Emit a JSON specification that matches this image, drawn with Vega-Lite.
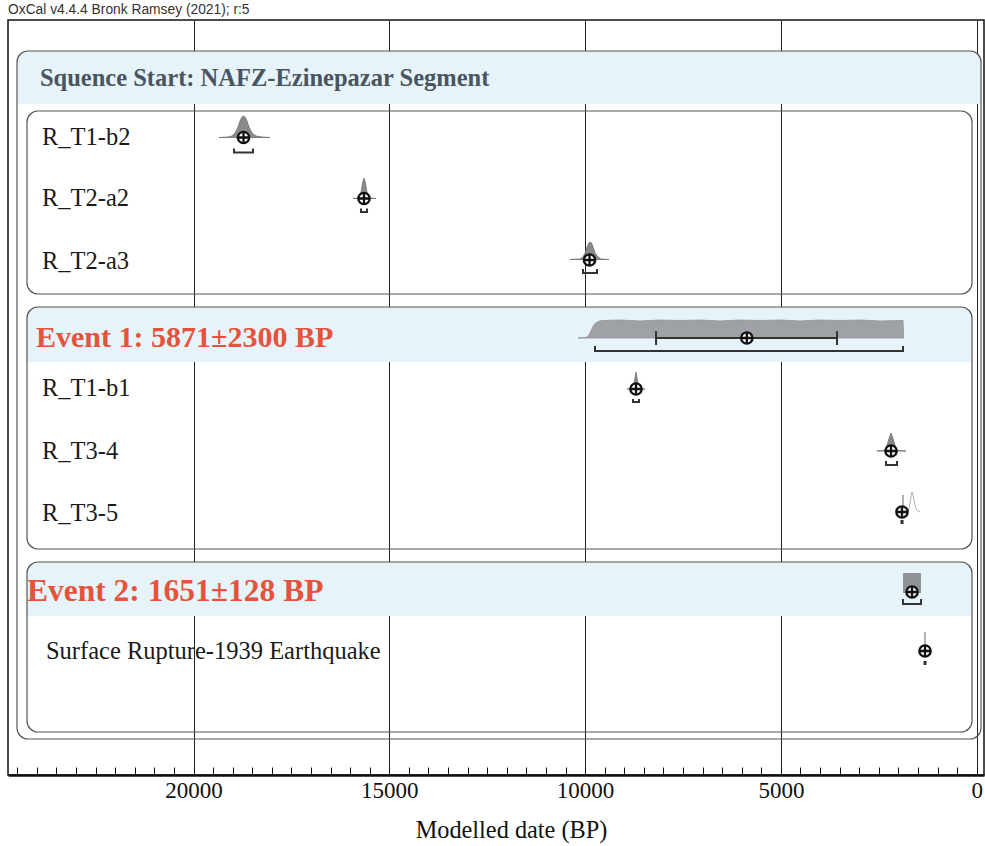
{
  "$schema": "https://vega.github.io/schema/vega-lite/v6.json",
  "width": 976,
  "height": 755,
  "autosize": {"type": "none"},
  "padding": {"left": 8, "top": 20, "right": 1, "bottom": 71},
  "background": "white",
  "title": {"text": "OxCal v4.4.4 Bronk Ramsey (2021); r:5", "anchor": "start", "font": "Liberation Sans", "fontSize": 13.8, "fontWeight": "normal", "color": "#333333", "offset": 3},
  "config": {"view": {"stroke": "#111111", "strokeWidth": 1.5}},
  "datasets": {
    "headers": [
      {"date": 24507, "date2": -110, "pos": 51, "pos2": 104},
      {"date": 24252, "date2": 120, "pos": 307, "pos2": 362},
      {"date": 24252, "date2": 120, "pos": 562, "pos2": 616}
    ],
    "frames": [
      {"group": "sequence", "date": 24507, "date2": -110, "pos": 51, "pos2": 739},
      {"group": "phase", "date": 24252, "date2": 120, "pos": 111, "pos2": 294},
      {"group": "event1", "date": 24252, "date2": 120, "pos": 307, "pos2": 549},
      {"group": "event2", "date": 24252, "date2": 120, "pos": 562, "pos2": 732}
    ],
    "curves": [
      {"id": "R_T1-b2", "date": 19349, "pos": 137.5, "pos2": 137.5},
      {"id": "R_T1-b2", "date": 19119, "pos": 137, "pos2": 137.5},
      {"id": "R_T1-b2", "date": 19017, "pos": 136, "pos2": 137.5},
      {"id": "R_T1-b2", "date": 18940, "pos": 133, "pos2": 137.5},
      {"id": "R_T1-b2", "date": 18863, "pos": 127, "pos2": 137.5},
      {"id": "R_T1-b2", "date": 18812, "pos": 121, "pos2": 137.5},
      {"id": "R_T1-b2", "date": 18761, "pos": 117, "pos2": 137.5},
      {"id": "R_T1-b2", "date": 18723, "pos": 116, "pos2": 137.5},
      {"id": "R_T1-b2", "date": 18685, "pos": 117, "pos2": 137.5},
      {"id": "R_T1-b2", "date": 18634, "pos": 121, "pos2": 137.5},
      {"id": "R_T1-b2", "date": 18583, "pos": 127, "pos2": 137.5},
      {"id": "R_T1-b2", "date": 18506, "pos": 133, "pos2": 137.5},
      {"id": "R_T1-b2", "date": 18404, "pos": 136, "pos2": 137.5},
      {"id": "R_T1-b2", "date": 18251, "pos": 137, "pos2": 137.5},
      {"id": "R_T1-b2", "date": 18046, "pos": 137.5, "pos2": 137.5},
      {"id": "R_T2-a2", "date": 15927, "pos": 198.5, "pos2": 198.5},
      {"id": "R_T2-a2", "date": 15799, "pos": 198, "pos2": 198.5},
      {"id": "R_T2-a2", "date": 15748, "pos": 196, "pos2": 198.5},
      {"id": "R_T2-a2", "date": 15710, "pos": 190, "pos2": 198.5},
      {"id": "R_T2-a2", "date": 15684, "pos": 183, "pos2": 198.5},
      {"id": "R_T2-a2", "date": 15646, "pos": 178, "pos2": 198.5},
      {"id": "R_T2-a2", "date": 15608, "pos": 183, "pos2": 198.5},
      {"id": "R_T2-a2", "date": 15582, "pos": 190, "pos2": 198.5},
      {"id": "R_T2-a2", "date": 15544, "pos": 196, "pos2": 198.5},
      {"id": "R_T2-a2", "date": 15493, "pos": 198, "pos2": 198.5},
      {"id": "R_T2-a2", "date": 15340, "pos": 198.5, "pos2": 198.5},
      {"id": "R_T2-a3", "date": 10386, "pos": 259.5, "pos2": 259.5},
      {"id": "R_T2-a3", "date": 10130, "pos": 259, "pos2": 259.5},
      {"id": "R_T2-a3", "date": 10054, "pos": 257, "pos2": 259.5},
      {"id": "R_T2-a3", "date": 10002, "pos": 253, "pos2": 259.5},
      {"id": "R_T2-a3", "date": 9951, "pos": 247, "pos2": 259.5},
      {"id": "R_T2-a3", "date": 9900, "pos": 243, "pos2": 259.5},
      {"id": "R_T2-a3", "date": 9875, "pos": 242, "pos2": 259.5},
      {"id": "R_T2-a3", "date": 9836, "pos": 243, "pos2": 259.5},
      {"id": "R_T2-a3", "date": 9798, "pos": 247, "pos2": 259.5},
      {"id": "R_T2-a3", "date": 9747, "pos": 253, "pos2": 259.5},
      {"id": "R_T2-a3", "date": 9670, "pos": 257, "pos2": 259.5},
      {"id": "R_T2-a3", "date": 9594, "pos": 259, "pos2": 259.5},
      {"id": "R_T2-a3", "date": 9390, "pos": 259.5, "pos2": 259.5},
      {"id": "R_T1-b1", "date": 8930, "pos": 389, "pos2": 389},
      {"id": "R_T1-b1", "date": 8802, "pos": 388.5, "pos2": 389},
      {"id": "R_T1-b1", "date": 8764, "pos": 386, "pos2": 389},
      {"id": "R_T1-b1", "date": 8738, "pos": 381, "pos2": 389},
      {"id": "R_T1-b1", "date": 8718, "pos": 376, "pos2": 389},
      {"id": "R_T1-b1", "date": 8700, "pos": 372, "pos2": 389},
      {"id": "R_T1-b1", "date": 8682, "pos": 376, "pos2": 389},
      {"id": "R_T1-b1", "date": 8662, "pos": 381, "pos2": 389},
      {"id": "R_T1-b1", "date": 8636, "pos": 386, "pos2": 389},
      {"id": "R_T1-b1", "date": 8598, "pos": 388.5, "pos2": 389},
      {"id": "R_T1-b1", "date": 8470, "pos": 389, "pos2": 389},
      {"id": "R_T3-4", "date": 2546, "pos": 451, "pos2": 451},
      {"id": "R_T3-4", "date": 2367, "pos": 450.5, "pos2": 451},
      {"id": "R_T3-4", "date": 2316, "pos": 448, "pos2": 451},
      {"id": "R_T3-4", "date": 2265, "pos": 442, "pos2": 451},
      {"id": "R_T3-4", "date": 2227, "pos": 437, "pos2": 451},
      {"id": "R_T3-4", "date": 2188, "pos": 433, "pos2": 451},
      {"id": "R_T3-4", "date": 2150, "pos": 437, "pos2": 451},
      {"id": "R_T3-4", "date": 2112, "pos": 442, "pos2": 451},
      {"id": "R_T3-4", "date": 2061, "pos": 448, "pos2": 451},
      {"id": "R_T3-4", "date": 2010, "pos": 450.5, "pos2": 451},
      {"id": "R_T3-4", "date": 1805, "pos": 451, "pos2": 451}
    ],
    "event1": [
      {"id": "Event 1", "date": 10181, "pos": 338, "pos2": 338},
      {"id": "Event 1", "date": 9977, "pos": 337.5, "pos2": 338},
      {"id": "Event 1", "date": 9900, "pos": 335, "pos2": 338},
      {"id": "Event 1", "date": 9849, "pos": 331, "pos2": 338},
      {"id": "Event 1", "date": 9798, "pos": 326.5, "pos2": 338},
      {"id": "Event 1", "date": 9747, "pos": 323.5, "pos2": 338},
      {"id": "Event 1", "date": 9670, "pos": 321.5, "pos2": 338},
      {"id": "Event 1", "date": 9568, "pos": 320.5, "pos2": 338},
      {"id": "Event 1", "date": 9109, "pos": 320, "pos2": 338},
      {"id": "Event 1", "date": 8598, "pos": 321, "pos2": 338},
      {"id": "Event 1", "date": 8087, "pos": 320, "pos2": 338},
      {"id": "Event 1", "date": 7577, "pos": 320.5, "pos2": 338},
      {"id": "Event 1", "date": 7066, "pos": 320, "pos2": 338},
      {"id": "Event 1", "date": 6555, "pos": 321, "pos2": 338},
      {"id": "Event 1", "date": 6044, "pos": 320, "pos2": 338},
      {"id": "Event 1", "date": 5534, "pos": 320.5, "pos2": 338},
      {"id": "Event 1", "date": 5023, "pos": 320, "pos2": 338},
      {"id": "Event 1", "date": 4512, "pos": 321, "pos2": 338},
      {"id": "Event 1", "date": 4001, "pos": 320, "pos2": 338},
      {"id": "Event 1", "date": 3491, "pos": 320.5, "pos2": 338},
      {"id": "Event 1", "date": 2980, "pos": 320, "pos2": 338},
      {"id": "Event 1", "date": 2469, "pos": 321, "pos2": 338},
      {"id": "Event 1", "date": 1959, "pos": 320.5, "pos2": 338},
      {"id": "Event 1", "date": 1882, "pos": 320.5, "pos2": 338},
      {"id": "Event 1", "date": 1869, "pos": 338, "pos2": 338}
    ],
    "uniform": [
      {"id": "Event 2", "date": 1882, "date2": 1422, "pos": 573, "pos2": 593}
    ],
    "priors": [
      {"id": "R_T3-5", "date": 1805, "pos": 512},
      {"id": "R_T3-5", "date": 1742, "pos": 511},
      {"id": "R_T3-5", "date": 1703, "pos": 503},
      {"id": "R_T3-5", "date": 1678, "pos": 496},
      {"id": "R_T3-5", "date": 1652, "pos": 492},
      {"id": "R_T3-5", "date": 1627, "pos": 495},
      {"id": "R_T3-5", "date": 1588, "pos": 503},
      {"id": "R_T3-5", "date": 1537, "pos": 510},
      {"id": "R_T3-5", "date": 1448, "pos": 512}
    ],
    "spikes": [
      {"id": "R_T3-5", "date": 1882, "pos": 495, "pos2": 512},
      {"id": "Surface Rupture-1939 Earthquake", "date": 1320, "pos": 632, "pos2": 647}
    ],
    "brackets": [
      {"id": "R_T1-b2", "ord": 1, "date": 18966, "pos": 148.5},
      {"id": "R_T1-b2", "ord": 2, "date": 18966, "pos": 152.5},
      {"id": "R_T1-b2", "ord": 3, "date": 18481, "pos": 152.5},
      {"id": "R_T1-b2", "ord": 4, "date": 18481, "pos": 148.5},
      {"id": "R_T2-a2", "ord": 1, "date": 15723, "pos": 208.5},
      {"id": "R_T2-a2", "ord": 2, "date": 15723, "pos": 212},
      {"id": "R_T2-a2", "ord": 3, "date": 15569, "pos": 212},
      {"id": "R_T2-a2", "ord": 4, "date": 15569, "pos": 208.5},
      {"id": "R_T2-a3", "ord": 1, "date": 10054, "pos": 269},
      {"id": "R_T2-a3", "ord": 2, "date": 10054, "pos": 273},
      {"id": "R_T2-a3", "ord": 3, "date": 9696, "pos": 273},
      {"id": "R_T2-a3", "ord": 4, "date": 9696, "pos": 269},
      {"id": "Event 1 68%", "ord": 1, "date": 8189, "pos": 331},
      {"id": "Event 1 68%", "ord": 2, "date": 8189, "pos": 345},
      {"id": "Event 1 68%", "ord": 3, "date": 8189, "pos": 338},
      {"id": "Event 1 68%", "ord": 4, "date": 3567, "pos": 338},
      {"id": "Event 1 68%", "ord": 5, "date": 3567, "pos": 331},
      {"id": "Event 1 68%", "ord": 6, "date": 3567, "pos": 345},
      {"id": "Event 1 95%", "ord": 1, "date": 9747, "pos": 346},
      {"id": "Event 1 95%", "ord": 2, "date": 9747, "pos": 351},
      {"id": "Event 1 95%", "ord": 3, "date": 1882, "pos": 351},
      {"id": "Event 1 95%", "ord": 4, "date": 1882, "pos": 346},
      {"id": "R_T1-b1", "ord": 1, "date": 8777, "pos": 399},
      {"id": "R_T1-b1", "ord": 2, "date": 8777, "pos": 402},
      {"id": "R_T1-b1", "ord": 3, "date": 8624, "pos": 402},
      {"id": "R_T1-b1", "ord": 4, "date": 8624, "pos": 399},
      {"id": "R_T3-4", "ord": 1, "date": 2316, "pos": 461},
      {"id": "R_T3-4", "ord": 2, "date": 2316, "pos": 465},
      {"id": "R_T3-4", "ord": 3, "date": 2035, "pos": 465},
      {"id": "R_T3-4", "ord": 4, "date": 2035, "pos": 461},
      {"id": "R_T3-5", "ord": 1, "date": 1921, "pos": 520},
      {"id": "R_T3-5", "ord": 2, "date": 1921, "pos": 523},
      {"id": "R_T3-5", "ord": 3, "date": 1895, "pos": 523},
      {"id": "R_T3-5", "ord": 4, "date": 1895, "pos": 520},
      {"id": "Event 2", "ord": 1, "date": 1882, "pos": 599},
      {"id": "Event 2", "ord": 2, "date": 1882, "pos": 604},
      {"id": "Event 2", "ord": 3, "date": 1422, "pos": 604},
      {"id": "Event 2", "ord": 4, "date": 1422, "pos": 599},
      {"id": "Surface", "ord": 1, "date": 1333, "pos": 661},
      {"id": "Surface", "ord": 2, "date": 1333, "pos": 664},
      {"id": "Surface", "ord": 3, "date": 1307, "pos": 664},
      {"id": "Surface", "ord": 4, "date": 1307, "pos": 661}
    ],
    "markers": [
      {"id": "R_T1-b2", "date": 18723, "pos": 137.5},
      {"id": "R_T2-a2", "date": 15646, "pos": 198.5},
      {"id": "R_T2-a3", "date": 9887, "pos": 260},
      {"id": "Event 1", "date": 5871, "pos": 338},
      {"id": "R_T1-b1", "date": 8700, "pos": 389},
      {"id": "R_T3-4", "date": 2188, "pos": 451},
      {"id": "R_T3-5", "date": 1908, "pos": 512},
      {"id": "Event 2", "date": 1651, "pos": 592},
      {"id": "Surface Rupture-1939 Earthquake", "date": 1320, "pos": 651}
    ],
    "labels": [
      {"text": "Squence Start: NAFZ-Ezinepazar Segment", "kind": "sequence", "date": 23920, "pos": 79},
      {"text": "R_T1-b2", "kind": "row", "date": 23869, "pos": 138},
      {"text": "R_T2-a2", "kind": "row", "date": 23869, "pos": 199},
      {"text": "R_T2-a3", "kind": "row", "date": 23869, "pos": 262},
      {"text": "Event 1: 5871±2300 BP", "kind": "event1", "date": 24022, "pos": 338},
      {"text": "R_T1-b1", "kind": "row", "date": 23869, "pos": 389},
      {"text": "R_T3-4", "kind": "row", "date": 23869, "pos": 452},
      {"text": "R_T3-5", "kind": "row", "date": 23869, "pos": 514},
      {"text": "Event 2: 1651±128 BP", "kind": "event2", "date": 24252, "pos": 591.5},
      {"text": "Surface Rupture-1939 Earthquake", "kind": "row", "date": 23767, "pos": 652}
    ]
  },
  "encoding": {
    "x": {
      "field": "date",
      "type": "quantitative",
      "scale": {"domain": [-186, 24737], "reverse": true, "nice": false, "zero": false},
      "axis": {
        "values": [0, 500, 1000, 1500, 2000, 2500, 3000, 3500, 4000, 4500, 5000, 5500, 6000, 6500, 7000, 7500, 8000, 8500, 9000, 9500, 10000, 10500, 11000, 11500, 12000, 12500, 13000, 13500, 14000, 14500, 15000, 15500, 16000, 16500, 17000, 17500, 18000, 18500, 19000, 19500, 20000, 20500, 21000, 21500, 22000, 22500, 23000, 23500, 24000, 24500],
        "format": "d",
        "labelExpr": "datum.value % 5000 === 0 ? datum.label : ''",
        "labelOverlap": false,
        "labelFlush": false,
        "tickSize": -8,
        "tickColor": "#111111",
        "tickWidth": 1,
        "grid": true,
        "gridColor": "#222222",
        "gridWidth": 1,
        "gridOpacity": {"condition": {"test": "datum.value % 5000 === 0", "value": 1}, "value": 0},
        "domainColor": "#111111",
        "domainWidth": 2.5,
        "labelFont": "Liberation Serif",
        "labelFontSize": 23,
        "labelColor": "#111111",
        "labelPadding": 12,
        "title": "Modelled date (BP)",
        "titleFont": "Liberation Serif",
        "titleFontSize": 24.3,
        "titleFontWeight": "normal",
        "titleColor": "#111111",
        "titlePadding": 16,
        "titleX": 503,
        "titleAlign": "center"
      }
    },
    "y": {
      "field": "pos",
      "type": "quantitative",
      "scale": {"domain": [20, 775], "reverse": true, "nice": false, "zero": false},
      "axis": null
    }
  },
  "layer": [
    {
      "data": {"name": "headers"},
      "mark": {"type": "rect", "fill": "#e6f4fa", "cornerRadiusTopLeft": 11, "cornerRadiusTopRight": 11},
      "encoding": {"x2": {"field": "date2"}, "y2": {"field": "pos2"}}
    },
    {
      "data": {"name": "frames"},
      "mark": {"type": "rect", "filled": false, "stroke": "#555555", "strokeWidth": 1.2, "cornerRadius": 11},
      "encoding": {"x2": {"field": "date2"}, "y2": {"field": "pos2"}}
    },
    {
      "data": {"name": "curves"},
      "mark": {"type": "area", "orient": "vertical", "fill": "#8a8a8a", "stroke": "#707070", "strokeWidth": 0.8},
      "encoding": {"y2": {"field": "pos2"}, "detail": {"field": "id"}}
    },
    {
      "data": {"name": "event1"},
      "mark": {"type": "area", "orient": "vertical", "fill": "#9ea2a6", "stroke": "#8c9094", "strokeWidth": 0.8},
      "encoding": {"y2": {"field": "pos2"}, "detail": {"field": "id"}}
    },
    {
      "data": {"name": "uniform"},
      "mark": {"type": "rect", "fill": "#8e9397"},
      "encoding": {"x2": {"field": "date2"}, "y2": {"field": "pos2"}}
    },
    {
      "data": {"name": "priors"},
      "mark": {"type": "line", "stroke": "#b0b0b0", "strokeWidth": 1},
      "encoding": {"detail": {"field": "id"}}
    },
    {
      "data": {"name": "spikes"},
      "mark": {"type": "rule", "stroke": "#666666", "strokeWidth": 1},
      "encoding": {"y2": {"field": "pos2"}}
    },
    {
      "data": {"name": "brackets"},
      "mark": {"type": "line", "stroke": "#333333", "strokeWidth": 2},
      "encoding": {"detail": {"field": "id"}, "order": {"field": "ord", "type": "quantitative"}}
    },
    {
      "data": {"name": "markers"},
      "mark": {"type": "point", "shape": "M-1,0A1,1,0,1,0,1,0A1,1,0,1,0,-1,0ZM-1,0L1,0M0,-1L0,1", "size": 130, "fill": "white", "fillOpacity": 1, "stroke": "#111111", "strokeWidth": 2.3, "opacity": 1}
    },
    {
      "data": {"name": "labels"},
      "transform": [{"filter": "datum.kind === 'sequence'"}],
      "mark": {"type": "text", "align": "left", "baseline": "middle", "font": "Liberation Serif", "fontWeight": "bold", "fontSize": 24.5, "color": "#4a5561"},
      "encoding": {"text": {"field": "text"}}
    },
    {
      "data": {"name": "labels"},
      "transform": [{"filter": "datum.kind === 'event1'"}],
      "mark": {"type": "text", "align": "left", "baseline": "middle", "font": "Liberation Serif", "fontWeight": "bold", "fontSize": 30, "color": "#e5533d"},
      "encoding": {"text": {"field": "text"}}
    },
    {
      "data": {"name": "labels"},
      "transform": [{"filter": "datum.kind === 'event2'"}],
      "mark": {"type": "text", "align": "left", "baseline": "middle", "font": "Liberation Serif", "fontWeight": "bold", "fontSize": 31.5, "color": "#e5533d"},
      "encoding": {"text": {"field": "text"}}
    },
    {
      "data": {"name": "labels"},
      "transform": [{"filter": "datum.kind === 'row'"}],
      "mark": {"type": "text", "align": "left", "baseline": "middle", "font": "Liberation Serif", "fontSize": 24.5, "color": "#1a1a1a"},
      "encoding": {"text": {"field": "text"}}
    }
  ]
}
